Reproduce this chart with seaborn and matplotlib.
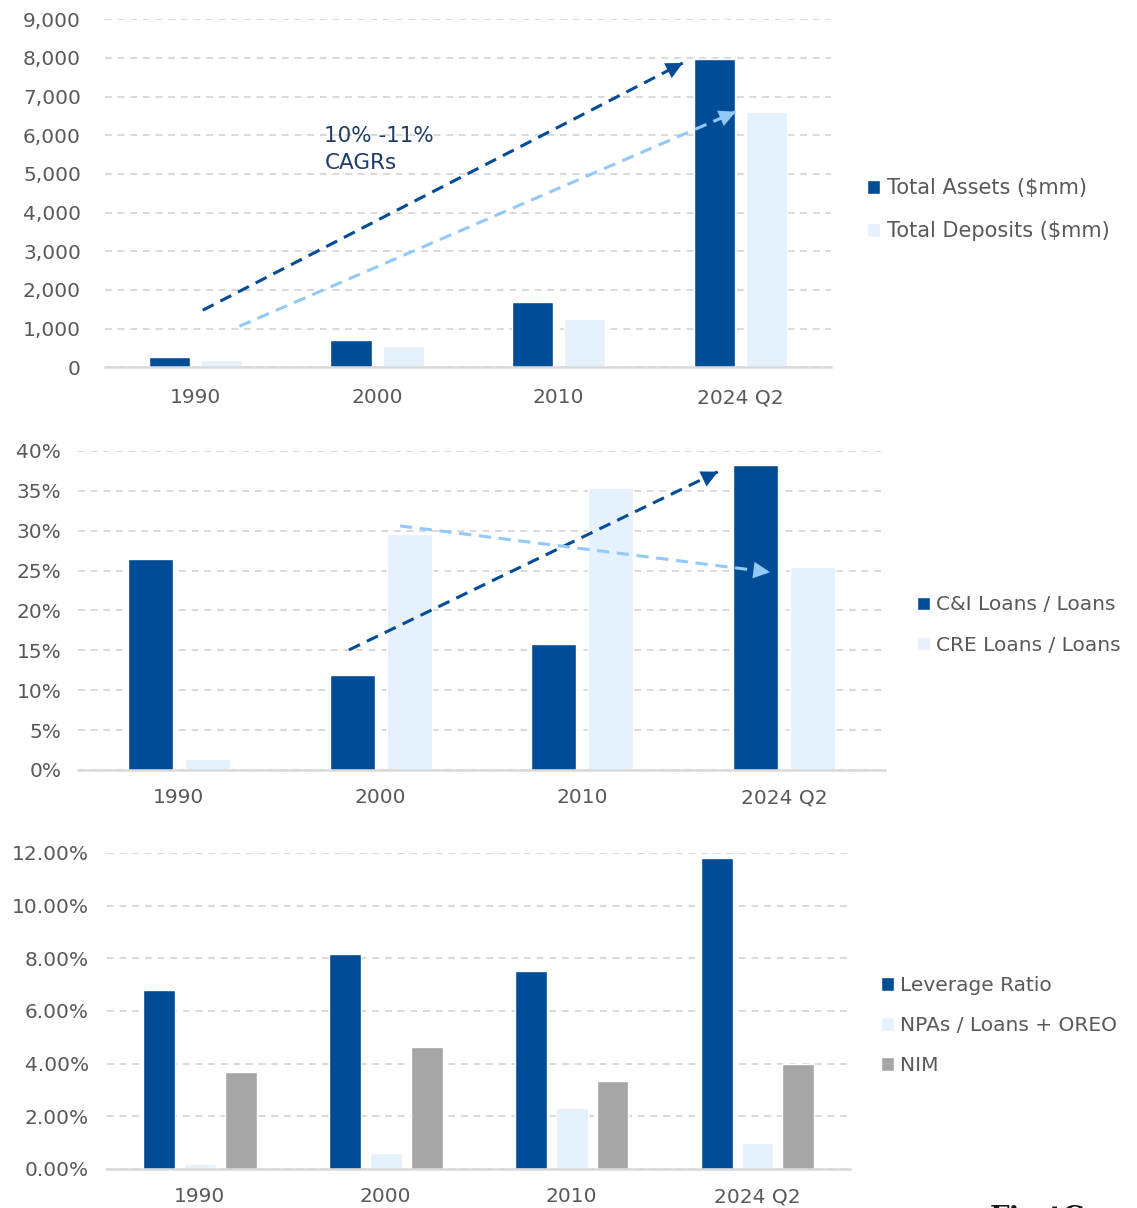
import numpy as np
import pandas as pd
import seaborn as sns
import matplotlib.pyplot as plt
from matplotlib.ticker import FuncFormatter

periods = ["1990", "2000", "2010", "2024 Q2"]

total_assets = [260, 700, 1680, 7980]
total_deposits = [200, 550, 1260, 6600]

ci_loans = [26.4, 11.9, 15.8, 38.2]
cre_loans = [1.4, 29.6, 35.3, 25.5]

leverage = [6.79, 8.15, 7.52, 11.82]
npas = [0.19, 0.60, 2.33, 1.00]
nim = [3.67, 4.65, 3.34, 3.99]

DARK = "#004C97"
LIGHT = "#E5F1FC"
GRAY = "#A6A6A6"
ARROW_LIGHT = "#92C9F9"
TXT = "#595959"
GRID = "#D9D9D9"

sns.set_theme(style="white")
plt.rcParams['font.family'] = ['DejaVu Sans']

fig = plt.figure(figsize=(11.37, 12.08), dpi=100)

def long(series_dict):
    rows = []
    for name, vals in series_dict.items():
        for p, v in zip(periods, vals):
            rows.append({"period": p, "series": name, "value": v})
    return pd.DataFrame(rows)

def style_axis(ax, ymax, step, fmt, ypad, xpad):
    ax.set_ylim(0, ymax)
    ax.set_xlim(-0.5, 3.5)
    ax.set_yticks(np.arange(0, ymax + step / 2, step))
    ax.yaxis.set_major_formatter(FuncFormatter(fmt))
    ax.grid(axis="y", color=GRID, linestyle=(0, (3.5, 3)), linewidth=1.4)
    ax.grid(axis="x", visible=False)
    ax.set_axisbelow(True)
    for s in ["top", "right", "left"]:
        ax.spines[s].set_visible(False)
    ax.spines["bottom"].set_color(GRID)
    ax.spines["bottom"].set_linewidth(1.8)
    ax.tick_params(axis="both", length=0, labelsize=14.5, labelcolor=TXT)
    ax.tick_params(axis="y", pad=ypad)
    ax.tick_params(axis="x", pad=xpad)
    ax.set_xlabel("")
    ax.set_ylabel("")

def legend(ax, x, y, spacing, fs):
    leg = ax.legend(loc="center left", bbox_to_anchor=(x, y), frameon=False,
                    handlelength=0.65, handleheight=0.65, handletextpad=0.3,
                    labelspacing=spacing, fontsize=fs, borderaxespad=0,
                    borderpad=0)
    for t in leg.get_texts():
        t.set_color(TXT)

def dashed_arrow(ax, start, end, color, lw=2.2):
    ax.plot([start[0], end[0]], [start[1], end[1]], color=color, lw=lw,
            linestyle=(0, (4, 2.5)), zorder=5)
    ax.annotate("", xy=end, xytext=start,
                arrowprops=dict(arrowstyle="-|>,head_length=1.0,head_width=0.5",
                                color=color, lw=0, shrinkA=0, shrinkB=0,
                                linestyle="solid"),
                zorder=6)

# ---------- Top panel ----------
ax1 = fig.add_axes([0.092, 0.696, 0.639, 0.288])
df1 = long({"Total Assets ($mm)": total_assets, "Total Deposits ($mm)": total_deposits})
sns.barplot(data=df1, x="period", y="value", hue="series", palette=[DARK, LIGHT],
            width=0.573, gap=0.21, ax=ax1, saturation=1, errorbar=None)
style_axis(ax1, 9000, 1000, lambda v, p: f"{int(v):,}", 17, 15)
legend(ax1, 1.049, 0.453, 1.1, 15)
dashed_arrow(ax1, (0.04, 1474), (2.683, 7870), DARK)
dashed_arrow(ax1, (0.242, 1060), (2.975, 6610), ARROW_LIGHT)
ax1.text(0.71, 5640, "10% -11%\nCAGRs", color="#1F3B66", fontsize=15.5,
         ha="left", va="center", linespacing=1.45)

# ---------- Middle panel ----------
ax2 = fig.add_axes([0.0686, 0.3626, 0.7098, 0.2641])
df2 = long({"C&I Loans / Loans": ci_loans, "CRE Loans / Loans": cre_loans})
sns.barplot(data=df2, x="period", y="value", hue="series", palette=[DARK, LIGHT],
            width=0.565, gap=0.21, ax=ax2, saturation=1, errorbar=None)
style_axis(ax2, 40, 5, lambda v, p: f"{int(round(v))}%", 12, 13)
legend(ax2, 1.04, 0.4545, 1.05, 14.5)
dashed_arrow(ax2, (0.843, 15.05), (2.672, 37.4), DARK)
dashed_arrow(ax2, (1.096, 30.6), (2.93, 24.8), ARROW_LIGHT)

# ---------- Bottom panel ----------
ax3 = fig.add_axes([0.094, 0.0323, 0.654, 0.2616])
df3 = long({"Leverage Ratio": leverage, "NPAs / Loans + OREO": npas, "NIM": nim})
sns.barplot(data=df3, x="period", y="value", hue="series", palette=[DARK, LIGHT, GRAY],
            width=0.66, gap=0.22, ax=ax3, saturation=1, errorbar=None)
style_axis(ax3, 12, 2, lambda v, p: f"{v:.2f}%", 13, 13)
legend(ax3, 1.041, 0.454, 1.05, 14.5)

# partial logo at bottom-right edge (cut off in the reference as well)
fig.text(990 / 1137, -0.009, "FirstC", fontsize=20, fontweight="bold",
         family="DejaVu Serif", color="#1a1a1a", ha="left", va="center")
fig.text(920 / 1137, -0.004, "\u25B2\u25B2\u25B2", fontsize=9, color=DARK,
         ha="left", va="center")

fig.savefig("out.png", dpi=100)
